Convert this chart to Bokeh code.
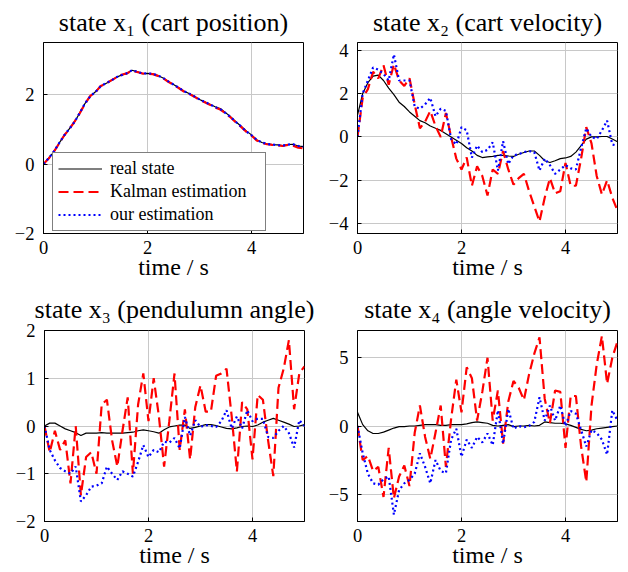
from bokeh.plotting import figure
from bokeh.layouts import column, row
from bokeh.models import Range1d, FixedTicker, Legend, LegendItem
from bokeh.embed import file_html
from bokeh.resources import INLINE

time = [0.0, 0.1, 0.2, 0.3, 0.4, 0.5, 0.6, 0.7, 0.8, 0.9,
        1.0, 1.1, 1.2, 1.3, 1.4, 1.5, 1.6, 1.7, 1.8, 1.9,
        2.0, 2.1, 2.2, 2.3, 2.4, 2.5, 2.6, 2.7, 2.8, 2.9,
        3.0, 3.1, 3.2, 3.3, 3.4, 3.5, 3.6, 3.7, 3.8, 3.9,
        4.0, 4.1, 4.2, 4.3, 4.4, 4.5, 4.6, 4.7, 4.8, 4.9, 5.0]

# state x1 (cart position)
x1_real = [0.00, 0.17, 0.35, 0.60, 0.82, 1.02, 1.22, 1.48, 1.75, 1.95,
           2.08, 2.24, 2.32, 2.40, 2.50, 2.56, 2.60, 2.70, 2.66, 2.60,
           2.61, 2.60, 2.55, 2.48, 2.38, 2.29, 2.20, 2.10, 2.03, 1.95,
           1.86, 1.79, 1.72, 1.65, 1.60, 1.48, 1.36, 1.22, 1.09, 0.95,
           0.84, 0.70, 0.62, 0.58, 0.56, 0.55, 0.53, 0.56, 0.57, 0.52, 0.50]
x1_kalman = [0.00, 0.16, 0.36, 0.59, 0.83, 1.01, 1.23, 1.47, 1.74, 1.96,
             2.07, 2.25, 2.31, 2.41, 2.49, 2.57, 2.61, 2.69, 2.65, 2.61,
             2.60, 2.59, 2.54, 2.47, 2.37, 2.28, 2.19, 2.09, 2.02, 1.94,
             1.85, 1.78, 1.71, 1.63, 1.57, 1.46, 1.34, 1.20, 1.07, 0.93,
             0.82, 0.68, 0.61, 0.57, 0.55, 0.54, 0.52, 0.55, 0.53, 0.47, 0.45]
x1_ours = [0.00, 0.17, 0.36, 0.60, 0.83, 1.02, 1.22, 1.48, 1.75, 1.95,
           2.08, 2.24, 2.33, 2.40, 2.50, 2.56, 2.61, 2.70, 2.66, 2.61,
           2.61, 2.60, 2.55, 2.48, 2.38, 2.29, 2.20, 2.10, 2.03, 1.95,
           1.86, 1.79, 1.72, 1.64, 1.58, 1.47, 1.35, 1.21, 1.08, 0.94,
           0.83, 0.70, 0.62, 0.58, 0.56, 0.55, 0.53, 0.56, 0.57, 0.52, 0.50]

# state x2 (cart velocity)
x2_real = [1.00, 2.00, 2.50, 2.80, 2.85, 2.60, 2.25, 1.95, 1.60, 1.40,
           1.15, 0.95, 0.75, 0.65, 0.50, 0.40, 0.30, 0.15, 0.00, -0.15,
           -0.30, -0.50, -0.65, -0.85, -0.95, -0.92, -0.90, -0.85, -0.85, -0.88,
           -0.90, -0.80, -0.72, -0.65, -0.65, -0.85, -1.10, -1.18, -1.10, -1.00,
           -0.97, -0.90, -0.70, -0.40, -0.10, 0.00, 0.00, 0.02, 0.02, -0.10, -0.22]
x2_kalman = [0.00, 1.80, 2.20, 3.00, 2.70, 3.30, 2.40, 3.35, 2.60, 2.35,
             2.70, 1.50, 0.40, 0.70, 1.20, 0.50, 0.00, 1.10, 0.00, -1.00,
             -1.50, -0.95, -2.25, -1.35, -1.80, -2.70, -1.50, -1.70, -0.65, -1.50,
             -2.20, -1.90, -1.70, -2.50, -3.20, -3.90, -2.80, -1.90, -2.60, -2.50,
             -1.20, -2.25, -2.25, -1.00, 0.45, -0.30, -1.80, -2.65, -2.00, -2.80, -3.40]
x2_ours = [0.00, 2.00, 2.60, 3.20, 3.10, 2.90, 2.60, 3.80, 2.60, 2.60,
           2.60, 1.40, 1.30, 1.50, 1.80, 0.95, 1.30, 1.20, -0.10, -0.35,
           0.45, 0.30, -0.95, -0.40, -0.70, -0.60, -0.25, -1.55, -0.20, -1.25,
           -0.85, -0.80, -0.70, -0.65, -0.70, -1.55, -1.00, -1.30, -1.70, -1.50,
           -1.30, -1.45, -1.50, -0.50, 0.40, 0.00, -0.10, 0.30, 0.75, -0.35, -0.40]

# state x3 (pendulum angle)
x3_real = [0.00, 0.06, 0.06, 0.00, -0.06, -0.10, -0.14, -0.20, -0.15, -0.15,
           -0.15, -0.14, -0.15, -0.15, -0.15, -0.15, -0.14, -0.13, -0.10, -0.08,
           -0.10, -0.12, -0.15, -0.08, -0.02, 0.00, 0.02, 0.02, -0.05, -0.03,
           0.00, 0.03, 0.03, 0.01, -0.02, -0.05, -0.06, -0.04, -0.01, 0.00,
           -0.01, 0.02, 0.08, 0.12, 0.16, 0.12, 0.08, 0.04, -0.01, 0.00, 0.03]
x3_kalman = [0.00, -0.55, -0.10, -0.50, -0.30, -1.20, 0.00, -1.45, -0.65, -0.55,
             -1.00, 0.45, 0.55, -0.30, -0.85, -0.10, 0.60, -1.00, 0.45, 1.10,
             0.10, 1.00, 0.20, -0.85, 0.10, 1.10, -0.50, 0.35, -0.70, 0.40,
             0.85, 0.30, 0.30, 1.05, 1.10, 1.20, 0.20, -0.95, 0.50, 0.35,
             -0.70, 0.65, 0.55, -0.30, -1.05, 0.80, 1.20, 1.80, 0.35, 1.10, 1.25]
x3_ours = [0.00, -0.50, -0.72, -0.88, -0.95, -1.00, -0.85, -1.58, -1.45, -1.27,
           -1.25, -1.20, -0.85, -1.00, -1.13, -0.95, -1.00, -1.06, -0.75, -0.40,
           -0.65, -0.50, -0.55, -0.33, -0.35, -0.25, -0.47, 0.19, -0.20, 0.12,
           -0.02, 0.02, 0.00, -0.02, 0.10, 0.33, -0.05, 0.20, -0.05, 0.33,
           0.10, 0.15, 0.15, -0.23, -0.25, -0.10, 0.00, -0.15, -0.45, 0.12, 0.00]

# state x4 (angle velocity)
x4_real = [1.00, 0.10, -0.35, -0.55, -0.55, -0.45, -0.30, -0.15, -0.05, -0.05,
           0.00, 0.00, 0.05, 0.10, 0.10, 0.10, 0.05, 0.05, 0.10, 0.10,
           0.10, 0.15, 0.25, 0.30, 0.25, 0.20, 0.05, 0.00, 0.05, 0.10,
           -0.05, 0.00, 0.00, 0.05, 0.00, 0.05, 0.30, 0.25, 0.20, 0.20,
           0.15, 0.05, -0.10, -0.25, -0.35, -0.30, -0.20, -0.15, -0.10, -0.05, 0.00]
x4_kalman = [0.00, -2.50, -2.20, -3.30, -3.00, -5.20, -1.60, -5.30, -3.70, -2.90,
             -4.40, -0.50, 1.50, -0.80, -2.40, -0.50, 1.50, -3.00, 0.50, 3.40,
             1.00, 4.30, 3.50, 0.40, 2.50, 5.00, 0.40, 2.60, -1.30, 1.80,
             3.30, 2.80, 1.90, 3.80, 5.30, 6.50, 2.00, 0.20, 2.60, 2.50,
             -1.60, 2.20, 2.20, -1.50, -4.10, 1.50, 4.50, 6.60, 3.10, 5.00, 6.20]
x4_ours = [0.00, -2.00, -3.50, -4.20, -4.30, -3.90, -3.70, -6.50, -4.70, -4.20,
           -3.95, -3.50, -2.00, -3.00, -4.20, -2.50, -3.30, -3.45, -1.00, -0.20,
           -2.25, -1.00, -1.60, -0.80, -1.20, -0.55, -1.40, 1.15, -1.30, 1.25,
           -0.20, 0.00, -0.10, 0.00, 0.30, 2.10, 0.40, 1.50, 0.40, 1.50,
           0.00, 1.10, 0.90, -0.30, -1.50, -0.30, -0.50, -1.00, -2.10, 1.15, 0.40]

titles = ["state x\u2081 (cart position)", "state x\u2082 (cart velocity)",
          "state x\u2083 (pendulumn angle)", "state x\u2084 (angle velocity)"]
x_ticks = [0, 2, 4]
y_ticks = [[-2, 0, 2], [-4, -2, 0, 2, 4], [-2, -1, 0, 1, 2], [-5, 0, 5]]
y_limits = [(-2.0, 3.5), (-4.45, 4.35), (-2.0, 2.0), (-7.0, 7.0)]
legend_labels = ["real state", "Kalman estimation", "our estimation"]
x_label = "time / s"

SERIF = "Liberation Serif"


def label_text(v):
    return ("\u2212" + str(abs(v))) if v < 0 else str(v)


def make_fig(idx, width, left, right, height, top, bottom, standoff, real, kal, ours):
    p = figure(width=width, height=height, output_backend="svg", toolbar_location=None,
               x_range=Range1d(0, 5), y_range=Range1d(*y_limits[idx]),
               min_border_left=left, min_border_right=right,
               min_border_top=top, min_border_bottom=bottom)
    p.title.text = titles[idx]
    p.title.text_font = SERIF
    p.title.text_font_size = "26px"
    p.title.text_font_style = "normal"
    p.title.align = "center"
    p.title.standoff = standoff
    p.title.text_color = "black"

    p.outline_line_color = "black"
    p.outline_line_width = 1
    p.outline_line_alpha = 1

    p.xaxis.ticker = FixedTicker(ticks=x_ticks)
    p.yaxis.ticker = FixedTicker(ticks=y_ticks[idx])
    p.xaxis.major_label_overrides = {v: label_text(v) for v in x_ticks}
    p.yaxis.major_label_overrides = {v: label_text(v) for v in y_ticks[idx]}
    p.xaxis.axis_label = x_label
    for ax in (p.xaxis, p.yaxis):
        ax.axis_line_color = "black"
        ax.major_tick_in = 4
        ax.major_tick_out = 0
        ax.minor_tick_line_color = None
        ax.major_tick_line_color = "black"
        ax.major_label_text_font = SERIF
        ax.major_label_text_font_size = "18.5px"
        ax.major_label_text_color = "black"
        ax.axis_label_text_font = SERIF
        ax.axis_label_text_font_size = "24px"
        ax.axis_label_text_font_style = "normal"
        ax.axis_label_text_color = "black"
    p.xaxis.major_label_standoff = 7
    p.xaxis.axis_label_standoff = -3
    p.yaxis.major_label_standoff = 9

    p.grid.grid_line_color = "#c8c8c8"
    p.grid.grid_line_width = 1

    r1 = p.line(time, real, line_color="black", line_width=1.2)
    r2 = p.line(time, kal, line_color="#ff0000", line_width=2.2, line_dash="10 5")
    r3 = p.line(time, ours, line_color="#0000ff", line_width=2.2, line_dash="2 3")
    return p, (r1, r2, r3)


p1, rs = make_fig(0, 321, 43, 18, 285, 41, 52, 11, x1_real, x1_kalman, x1_ours)
p2, _ = make_fig(1, 299, 36, 3, 285, 41, 52, 11, x2_real, x2_kalman, x2_ours)
p3, _ = make_fig(2, 321, 44, 17, 287, 44, 51, 14, x3_real, x3_kalman, x3_ours)
p4, _ = make_fig(3, 299, 36, 3, 287, 44, 51, 14, x4_real, x4_kalman, x4_ours)

legend = Legend(items=[LegendItem(label=lab, renderers=[r]) for lab, r in zip(legend_labels, rs)],
                location=(9, 2))
legend.border_line_color = "black"
legend.border_line_width = 1
legend.background_fill_color = "white"
legend.background_fill_alpha = 1
legend.padding = 5
legend.spacing = 2
legend.margin = 0
legend.glyph_width = 44
legend.glyph_height = 19
legend.label_height = 19
legend.label_width = 150
legend.label_standoff = 8
legend.label_text_font = SERIF
legend.label_text_font_size = "18px"
legend.label_text_color = "black"
p1.add_layout(legend)

layout = column(row(p1, p2), row(p3, p4))

open("out.html", "w").write(file_html(layout, INLINE))
